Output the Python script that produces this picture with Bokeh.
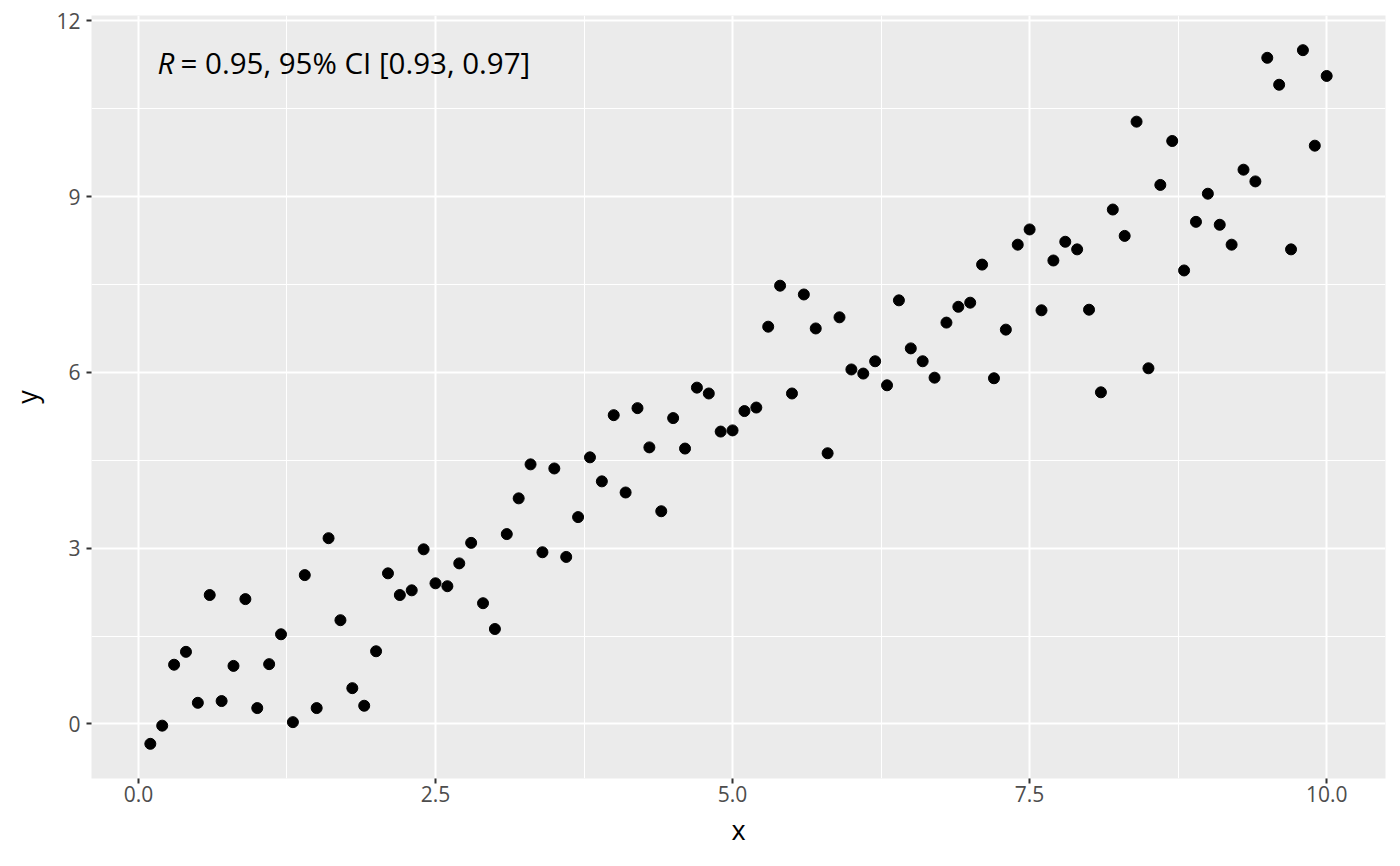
from bokeh.plotting import figure
from bokeh.models import ColumnDataSource, FixedTicker, Range1d, Label
from bokeh.embed import file_html
from bokeh.resources import INLINE

x_vals = [round(0.1 * i, 1) for i in range(1, 101)]
y_vals = [
    -0.34, -0.03, 1.01, 1.23, 0.36, 2.20, 0.39, 0.99, 2.13, 0.27,
    1.02, 1.53, 0.03, 2.54, 0.27, 3.17, 1.77, 0.61, 0.31, 1.24,
    2.57, 2.20, 2.28, 2.98, 2.40, 2.35, 2.74, 3.09, 2.06, 1.62,
    3.24, 3.85, 4.43, 2.93, 4.36, 2.85, 3.53, 4.55, 4.14, 5.27,
    3.95, 5.39, 4.72, 3.63, 5.22, 4.70, 5.74, 5.64, 4.99, 5.01,
    5.34, 5.40, 6.78, 7.48, 5.64, 7.33, 6.75, 4.62, 6.94, 6.05,
    5.98, 6.19, 5.78, 7.23, 6.41, 6.19, 5.91, 6.85, 7.12, 7.19,
    7.84, 5.90, 6.73, 8.18, 8.44, 7.06, 7.91, 8.23, 8.10, 7.07,
    5.66, 8.78, 8.33, 10.28, 6.07, 9.20, 9.95, 7.74, 8.57, 9.05,
    8.52, 8.18, 9.46, 9.26, 11.37, 10.91, 8.10, 11.50, 9.87, 11.06,
]
x_ticks = [0.0, 2.5, 5.0, 7.5, 10.0]
x_tick_labels = ["0.0", "2.5", "5.0", "7.5", "10.0"]
x_minor = [1.25, 3.75, 6.25, 8.75]
y_ticks = [0, 3, 6, 9, 12]
y_tick_labels = ["0", "3", "6", "9", "12"]
y_minor = [1.5, 4.5, 7.5, 10.5]
r_label = "R"
stat_label = "= 0.95, 95% CI [0.93, 0.97]"

FONT = "Open Sans"

xmin, xmax = min(x_vals), max(x_vals)
ymin, ymax = min(y_vals), max(y_vals)
xpad = (xmax - xmin) * 0.05
ypad = (ymax - ymin) * 0.05

p = figure(
    frame_width=1294, frame_height=763,
    min_border_left=91, min_border_top=15, min_border_right=7, min_border_bottom=80,
    x_range=Range1d(xmin - xpad, xmax + xpad),
    y_range=Range1d(ymin - ypad, ymax + ypad),
    output_backend="svg", toolbar_location=None,
    x_axis_label="x", y_axis_label="y",
)
p.background_fill_color = "#EBEBEB"
p.border_fill_color = "white"
p.outline_line_color = None

p.xaxis.ticker = FixedTicker(ticks=x_ticks, minor_ticks=x_minor)
p.yaxis.ticker = FixedTicker(ticks=y_ticks, minor_ticks=y_minor)
p.xaxis.major_label_overrides = {t: l for t, l in zip(x_ticks, x_tick_labels)}
p.yaxis.major_label_overrides = {t: l for t, l in zip(y_ticks, y_tick_labels)}

for ax in (p.xaxis, p.yaxis):
    ax.axis_line_color = None
    ax.minor_tick_line_color = None
    ax.major_tick_line_color = "#333333"
    ax.major_tick_line_width = 2
    ax.major_tick_in = 0
    ax.major_tick_out = 5
    ax.major_label_text_font = FONT
    ax.major_label_text_font_size = "21px"
    ax.major_label_text_color = "#4D4D4D"
    ax.axis_label_text_font = FONT
    ax.axis_label_text_font_size = "27px"
    ax.axis_label_text_font_style = "normal"
    ax.axis_label_text_color = "black"
p.xaxis.major_label_standoff = 2
p.yaxis.major_label_standoff = 6
p.xaxis.axis_label_standoff = 6
p.yaxis.axis_label_standoff = 8

for g in (p.xgrid, p.ygrid):
    g.grid_line_color = "white"
    g.grid_line_width = 2
    g.minor_grid_line_color = "white"
    g.minor_grid_line_width = 1

src = ColumnDataSource(dict(x=x_vals, y=y_vals))
p.scatter("x", "y", source=src, size=11, color="black", line_color="black")

lab1 = Label(x=66, y=716, x_units="screen", y_units="screen", text=r_label,
             text_font=FONT, text_font_size="29.5px", text_font_style="italic",
             text_baseline="middle", text_color="black")
lab2 = Label(x=89, y=716, x_units="screen", y_units="screen", text=stat_label,
             text_font=FONT, text_font_size="29.5px",
             text_baseline="middle", text_color="black")
p.add_layout(lab1)
p.add_layout(lab2)

open("out.html", "w").write(file_html(p, INLINE))
